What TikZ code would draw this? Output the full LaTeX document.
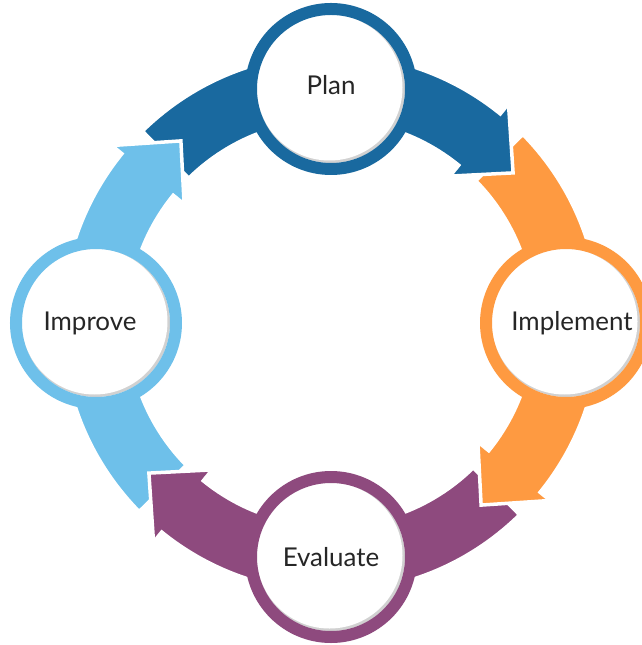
\documentclass[tikz,border=0pt]{standalone}
\usepackage{fontspec}
\setmainfont{Lato}
\usepackage{tikz}
\usetikzlibrary{shapes}
\definecolor{planblue}{HTML}{19699F}
\definecolor{implorange}{HTML}{FE9A41}
\definecolor{evalpurple}{HTML}{8E4A7E}
\definecolor{improvblue}{HTML}{6EC0EA}
\definecolor{txtgray}{HTML}{262626}
% curved band arrow: #1 = tail angle, #2 = colour
\newcommand{\bandarrow}[2]{%
  \filldraw[fill=#2,draw=white,line width=3.5bp,line join=miter]
    (#1:269bp) arc[start angle=#1, end angle={#1-83.5}, radius=269bp]
    -- ({#1-83.5}:282bp) -- ({#1-95}:236bp) -- ({#1-83.5}:189bp)
    -- ({#1-83.5}:203bp) arc[start angle={#1-83.5}, end angle=#1, radius=203bp]
    -- cycle;}

\begin{document}
\begin{tikzpicture}[x=1bp,y=1bp]
      \tikzstyle{every node}=[font=\fontsize{26}{30}\selectfont,text=txtgray]
      \tikzstyle{stage}=[circle,fill=white,line width=12bp,minimum size=160bp,inner sep=0pt,
        path picture={\fill[black!18] (path picture bounding box.center) circle (74bp);
                      \fill[white] ([xshift=-1.5bp,yshift=1.5bp]path picture bounding box.center) circle (73bp);}]
      \useasboundingbox (-331,-322) rectangle (311,323);
      % 
      \bandarrow{134.5}{planblue}
      \bandarrow{-135.5}{improvblue}
      \bandarrow{-45.5}{evalpurple}
      \bandarrow{44.5}{implorange}
      \begin{scope}
        \clip (0,0) rectangle (320,330);
        \bandarrow{134.5}{planblue}
      \end{scope}
      % 
      \node [stage,draw=planblue]   (plan)   at (90:234bp)  {};
      \node [stage,draw=implorange] (impl)   at (0:235bp)   {};
      \node [stage,draw=evalpurple] (eval)   at (-90:234bp) {};
      \node [stage,draw=improvblue] (improv) at (180:235bp) {};
      \node [yshift=4bp]   at (plan)   {Plan};
      \node [xshift=6bp]   at (impl)   {Implement};
      \node                at (eval)   {Evaluate};
      \node [xshift=-6bp]  at (improv) {Improve};
    \end{tikzpicture}
\end{document}
